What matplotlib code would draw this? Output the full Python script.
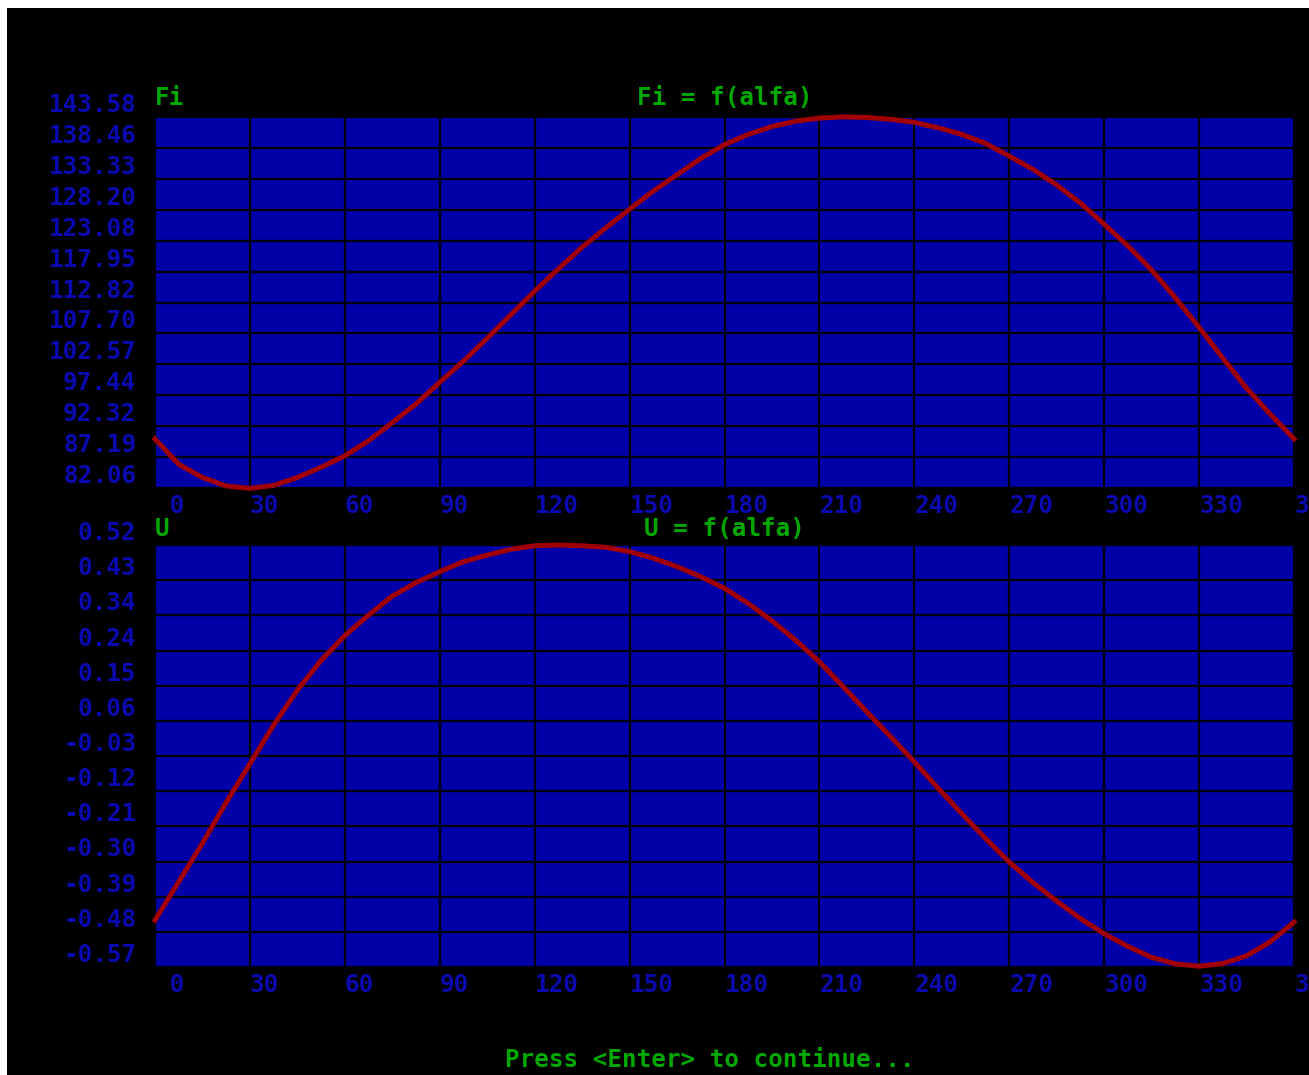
import matplotlib
matplotlib.use('Agg')
import matplotlib.pyplot as plt
from matplotlib.patches import Rectangle
import numpy as np

# angle alfa, degrees (every 7.5 deg)
alfa = [0, 7.5, 15, 22.5, 30, 37.5, 45, 52.5, 60, 67.5, 75, 82.5, 90,
        97.5, 105, 112.5, 120, 127.5, 135, 142.5, 150, 157.5, 165, 172.5, 180,
        187.5, 195, 202.5, 210, 217.5, 225, 232.5, 240, 247.5, 255, 262.5, 270,
        277.5, 285, 292.5, 300, 307.5, 315, 322.5, 330, 337.5, 345, 352.5, 360]

# Fi = f(alfa)
fi = [90.2, 86.0, 83.8, 82.4, 82.0, 82.5, 83.8, 85.5, 87.4, 89.9, 92.9, 96.0, 99.6,
      103.1, 106.9, 110.8, 114.7, 118.4, 122.0, 125.2, 128.3, 131.3, 134.0, 136.7, 139.0,
      140.7, 142.0, 142.9, 143.4, 143.6, 143.5, 143.2, 142.7, 141.8, 140.7, 139.2, 137.1,
      134.9, 132.3, 129.3, 125.8, 122.2, 118.2, 113.6, 108.7, 103.6, 98.6, 94.3, 90.2]

# U = f(alfa)
u = [-0.449, -0.350, -0.250, -0.145, -0.045, 0.055, 0.145, 0.222, 0.286, 0.339, 0.388, 0.423, 0.451,
     0.477, 0.494, 0.509, 0.518, 0.520, 0.518, 0.514, 0.503, 0.486, 0.464, 0.438, 0.408,
     0.369, 0.324, 0.274, 0.218, 0.154, 0.089, 0.025, -0.040, -0.108, -0.174, -0.238, -0.299,
     -0.352, -0.400, -0.445, -0.484, -0.517, -0.545, -0.562, -0.568, -0.561, -0.541, -0.505, -0.454]

x_ticks = [0, 30, 60, 90, 120, 150, 180, 210, 240, 270, 300, 330, 360]
x_labels = [' 0', '30', '60', '90', '120', '150', '180', '210', '240', '270', '300', '330', '360']

fi_labels = ['143.58', '138.46', '133.33', '128.20', '123.08', '117.95', '112.82',
             '107.70', '102.57', '97.44', '92.32', '87.19', '82.06']
u_labels = ['0.52', '0.43', '0.34', '0.24', '0.15', '0.06', '-0.03',
            '-0.12', '-0.21', '-0.30', '-0.39', '-0.48', '-0.57']

BLUE_BG = '#0000a8'
LABEL_BLUE = '#0a0ab0'
GREEN = '#00a800'
RED = '#a00000'

plt.rcParams['font.family'] = ['DejaVu Sans Mono', 'DejaVu Sans']
plt.rcParams['font.weight'] = 'bold'

W, H = 1309, 1075
fig = plt.figure(figsize=(W / 100, H / 100), dpi=100, facecolor='white')
# black screen, white strip on top and left
fig.add_artist(Rectangle((7 / W, 0), 1, 1 - 8 / H, transform=fig.transFigure,
                         facecolor='black', edgecolor='none', zorder=-10))


def panel(rect, y, labels, title_short, title, title_pad):
    ax = fig.add_axes(rect)
    ax.set_facecolor(BLUE_BG)
    ymin, ymax = float(labels[-1]), float(labels[0])
    ax.plot(alfa, y, color=RED, lw=3.6, clip_on=False, zorder=3)
    ax.set_xlim(0, 360)
    ax.set_ylim(ymin, ymax)
    ax.set_xticks(x_ticks, x_labels)
    ax.set_yticks(np.linspace(ymax, ymin, len(labels)), labels)
    ax.grid(True, color='black', lw=1.6)
    ax.set_axisbelow(True)
    for s in ax.spines.values():
        s.set_visible(False)
    ax.tick_params(length=0, labelcolor=LABEL_BLUE, labelsize=17.5)
    ax.tick_params(axis='y', pad=13.5)
    ax.tick_params(axis='x', pad=4)
    for lbl in ax.get_yticklabels():
        lbl.set_verticalalignment('bottom')
    for lbl in ax.get_xticklabels():
        lbl.set_horizontalalignment('left')
    ax.set_title(title_short, loc='left', color=GREEN, fontsize=17.5,
                 fontweight='bold', pad=title_pad)
    ax.set_title(title, loc='center', color=GREEN, fontsize=17.5,
                 fontweight='bold', pad=title_pad)
    return ax


panel([155 / W, 1 - 488 / H, 1139 / W, 371 / H], fi, fi_labels, 'Fi', 'Fi = f(alfa)', 8.5)
panel([155 / W, 1 - 967 / H, 1139 / W, 422 / H], u, u_labels, 'U', 'U = f(alfa)', 6.5)

fig.text(710 / W, 1 - 1060 / H, 'Press <Enter> to continue...', color=GREEN,
         fontsize=17.5, ha='center', va='center')

fig.savefig('out.png', dpi=100, facecolor=fig.get_facecolor())
